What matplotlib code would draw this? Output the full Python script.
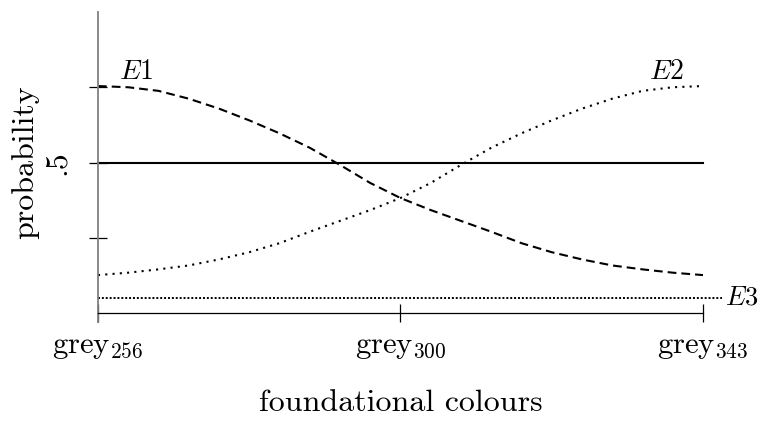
import matplotlib
matplotlib.use("Agg")
import matplotlib.pyplot as plt

# ----------------------------------------------------------------------------
# data (x = position along the colour axis, 0..1)
# ----------------------------------------------------------------------------
pos = [0.0, 0.05, 0.1, 0.15, 0.2, 0.25, 0.3, 0.35, 0.4, 0.45, 0.5,
       0.55, 0.6, 0.65, 0.7, 0.75, 0.8, 0.85, 0.9, 0.95, 1.0]
e1 = [0.754, 0.750, 0.738, 0.712, 0.679, 0.640, 0.597, 0.549, 0.492, 0.432,
      0.382, 0.342, 0.306, 0.270, 0.232, 0.202, 0.178, 0.158, 0.145, 0.134,
      0.126]
e2 = [0.126, 0.134, 0.145, 0.158, 0.178, 0.202, 0.232, 0.270, 0.306, 0.342,
      0.382, 0.432, 0.492, 0.549, 0.597, 0.640, 0.679, 0.712, 0.738, 0.750,
      0.754]
e3_level = 0.05
e3_span = [0.0, 1.031]
half = 0.5

xtick_pos = [0.0, 0.5, 1.0]
xtick_labels = [r"$\mathrm{grey}_{256}$", r"$\mathrm{grey}_{300}$",
                r"$\mathrm{grey}_{343}$"]
ytick_pos = [0.25, 0.5, 0.75]
ytick_labels = ["", ".5", ""]

plt.rcParams["mathtext.fontset"] = "cm"
plt.rcParams["font.family"] = ["cmr10", "DejaVu Serif"]
plt.rcParams["axes.unicode_minus"] = False

fig = plt.figure(figsize=(7.59, 4.21), dpi=100)
ax = fig.add_axes([0.1291, 0.2565, 0.7971, 0.7150])
ax.set_xlim(0, 1)
ax.set_ylim(0, 1)

# curves
ax.plot(pos, e1, color="black", lw=1.5, linestyle=(0, (4.2, 2.4)),
        clip_on=False)
ax.plot(pos, e2, color="black", lw=1.5, linestyle=(0, (1.0, 2.5)),
        clip_on=False)
ax.plot(e3_span, [e3_level, e3_level], color="black", lw=1.4,
        linestyle=(0, (1.0, 1.0)), clip_on=False)
ax.plot([0, 1], [half, half], color="black", lw=1.5, clip_on=False)

# labels on the curves
ax.text(0.063, 0.80, r"$E1$", fontsize=20, ha="center", va="center")
ax.text(0.939, 0.80, r"$E2$", fontsize=20, ha="center", va="center")
ax.text(1.036, e3_level, r"$E3$", fontsize=19, ha="left", va="center",
        clip_on=False)

# spines
for side in ("top", "right"):
    ax.spines[side].set_visible(False)
ax.spines["left"].set_color("#808080")
ax.spines["left"].set_linewidth(1.3)
ax.spines["left"].set_bounds(-0.03, 1.0)
ax.spines["bottom"].set_linewidth(0.9)
ax.spines["bottom"].set_bounds(0, 1)

# ticks
ax.set_xticks(xtick_pos)
ax.set_xticklabels(xtick_labels, fontsize=22)
ax.set_yticks(ytick_pos)
ax.set_yticklabels(ytick_labels, fontsize=23, rotation=90, va="center")
ax.tick_params(axis="x", direction="inout", length=13, width=0.9, pad=8)
ax.tick_params(axis="y", direction="inout", length=13, width=0.9, pad=13)

ax.set_xlabel("foundational colours", fontsize=23, labelpad=21)
ax.set_ylabel("probability", fontsize=23, labelpad=3)

fig.savefig("out.png", dpi=100)
